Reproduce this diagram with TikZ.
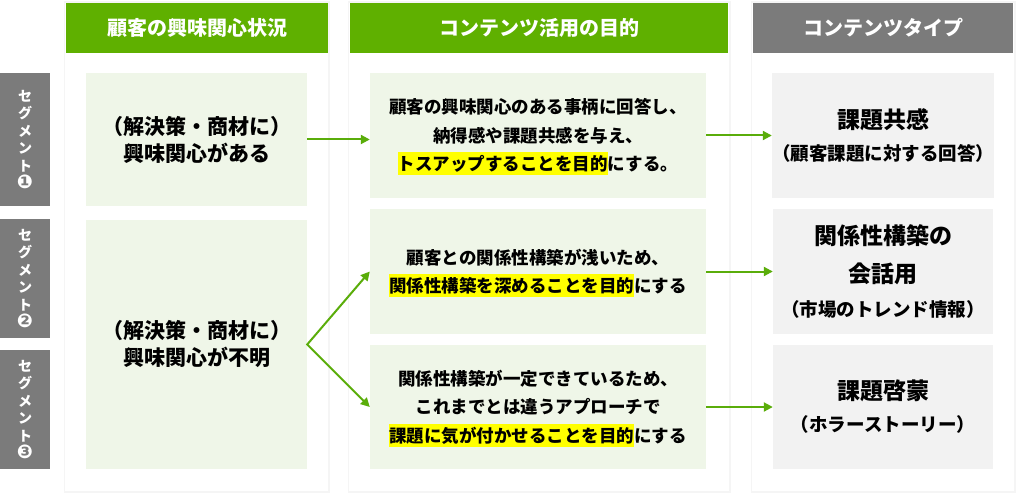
\documentclass[tikz,border=0pt]{standalone}
\usepackage{fontspec}
\setmainfont{Noto Sans CJK JP}
\newfontfamily\symfont{DejaVu Sans}
\usetikzlibrary{arrows.meta}

\definecolor{hdgreen}{HTML}{5FB000}
\definecolor{boxgreen}{HTML}{EFF6E8}
\definecolor{hdgray}{HTML}{7B7B7B}
\definecolor{boxgray}{HTML}{F2F2F2}
\definecolor{arrgreen}{HTML}{5AAD0A}
\definecolor{hlyellow}{HTML}{FFFF00}

\newcommand{\hl}[1]{\smash{\setlength{\fboxsep}{0pt}\colorbox{hlyellow}{\rule[-4.5pt]{0pt}{23pt}#1}}}
\newcommand{\segno}[1]{{\symfont\fontsize{19}{17.5}\selectfont #1}}

\def\panelone{(65,3) rectangle (328,491)}
\def\paneltwo{(349,3) rectangle (729,491)}
\def\panelthree{(752,3) rectangle (1014,491)}

\tikzset{
  head/.style={fill=hdgreen, text=white, minimum height=50pt, inner sep=0pt,
    font=\bfseries\fontsize{20}{24}\selectfont},
  segbox/.style={fill=hdgray, text=white, minimum width=50pt, inner sep=0pt,
    align=center, font=\bfseries\fontsize{14}{17.5}\selectfont},
  leftbox/.style={fill=boxgreen, minimum width=221pt, inner sep=0pt,
    align=center, font=\bfseries\fontsize{21}{27}\selectfont},
  midbox/.style={fill=boxgreen, minimum width=336pt, inner sep=0pt,
    align=center, font=\bfseries\fontsize{17.5}{28.5}\selectfont},
  typebox/.style={fill=boxgray, minimum width=220pt, inner sep=0pt,
    align=center, font=\bfseries\fontsize{18.5}{32}\selectfont},
  flow/.style={arrgreen, line width=2pt, ->},
}

\begin{document}
\begin{tikzpicture}[x=1pt, y=-1pt, >={Triangle[length=9pt,width=9pt]}]
    \useasboundingbox (0,0) rectangle (1024,497);
    \fill[white] (0,0) rectangle (1024,497);

    % panels
    \foreach \p in {\panelone, \paneltwo, \panelthree} {
        \draw[black!4, line width=3pt] \p;
        \fill[white] \p;
    }

    % headers
    \node[head, minimum width=262pt] (h1) at (197,28) {顧客の興味関心状況};
    \node[head, minimum width=378pt] (h2) at (539,28) {コンテンツ活用の目的};
    \node[head, fill=hdgray, minimum width=260pt] (h3) at (883,28) {コンテンツタイプ};

    % segments
    \node[segbox, minimum height=133pt] (s1) at (25,139.5) {セ\\グ\\メ\\ン\\ト\\\segno{❶}};
    \node[segbox, minimum height=119pt] (s2) at (25,278.5) {セ\\グ\\メ\\ン\\ト\\\segno{❷}};
    \node[segbox, minimum height=119pt] (s3) at (25,409.5) {セ\\グ\\メ\\ン\\ト\\\segno{❸}};

    % interest
    \node[leftbox, minimum height=133pt] (c1a) at (196.5,139.5) {（解決策・商材に）\\興味関心がある};
    \node[leftbox, minimum height=249pt] (c1b) at (196.5,344.5) {（解決策・商材に）\\興味関心が不明};

    % purpose
    \node[midbox, minimum height=125pt] (c2a) at (538,135.5)
        {顧客の興味関心のある事柄に回答し、\\納得感や課題共感を与え、\\\hl{トスアップすることを目的}にする。};
    \node[midbox, minimum height=125pt] (c2b) at (538,271.5)
        {顧客との関係性構築が浅いため、\\\hl{関係性構築を深めることを目的}にする};
    \node[midbox, minimum height=124pt] (c2c) at (538,407)
        {関係性構築が一定できているため、\\これまでとは違うアプローチで\\\hl{課題に気が付かせることを目的}にする};

    % content type
    \node[typebox, minimum height=125pt] (c3a) at (883,135.5)
        {{\fontsize{23}{26}\selectfont 課題共感}\\（顧客課題に対する回答）};
    \node[typebox, minimum height=125pt] (c3b) at (883,271.5)
        {{\fontsize{23}{26}\selectfont 関係性構築の}\\[6pt]{\fontsize{23}{26}\selectfont 会話用}\\[2pt]（市場のトレンド情報）};
    \node[typebox, minimum height=124pt] (c3c) at (883,407)
        {{\fontsize{23}{26}\selectfont 課題啓蒙}\\（ホラーストーリー）};

    % arrows
    \draw[flow] (c1a.east) -- (c2a.west |- c1a.east);
    \draw[flow, <->, line join=miter] (c2b.west) -- (c1b.east) -- (c2c.west);
    \draw[flow] (c2a.east) -- (c3a.west);
    \draw[flow] (c2b.east) -- (c3b.west);
    \draw[flow] (c2c.east) -- (c3c.west);
\end{tikzpicture}
\end{document}
